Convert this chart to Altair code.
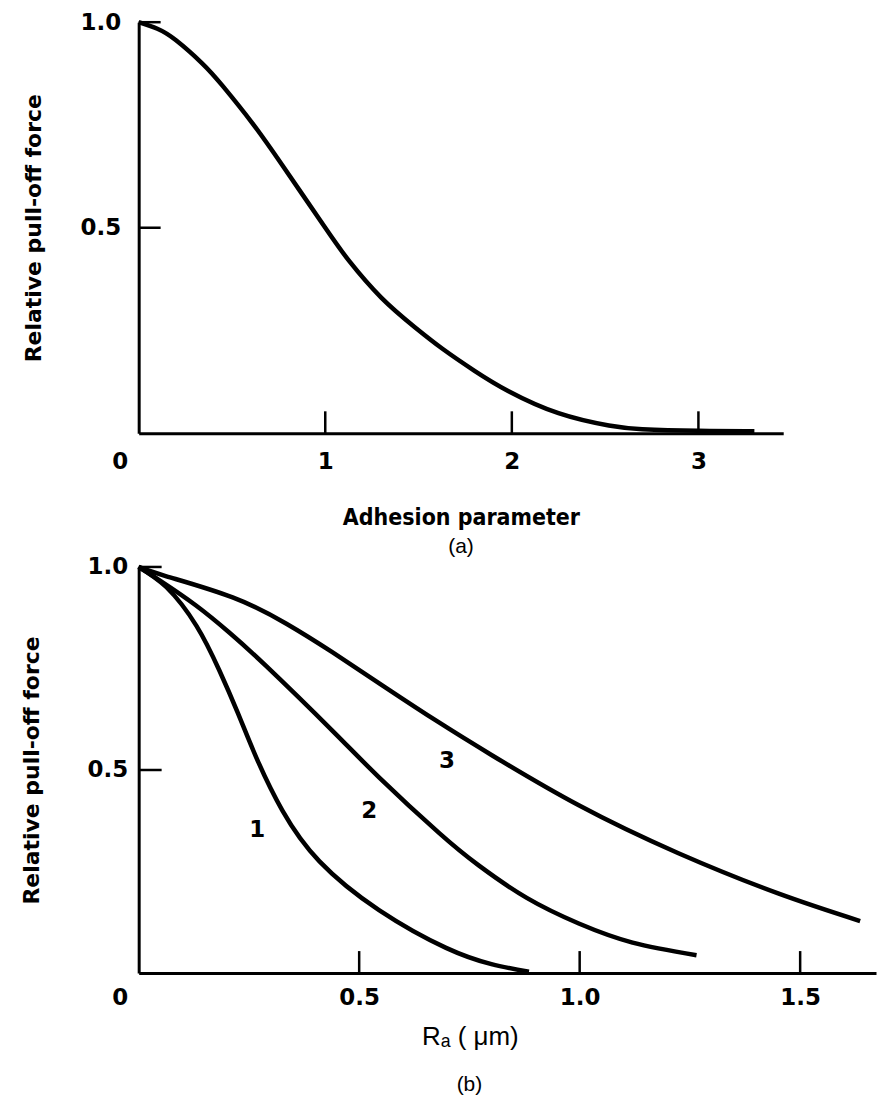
import altair as alt
import pandas as pd

# ---------------- Panel (a) data ----------------
a_x = [0, 0.1, 0.2, 0.34, 0.45, 0.61, 0.77, 1.0, 1.13, 1.3, 1.48, 1.63, 1.8, 1.98, 2.25, 2.52, 2.7, 3.0, 3.3]
a_y = [1.0, 0.984, 0.956, 0.90, 0.845, 0.754, 0.652, 0.5, 0.418, 0.33, 0.258, 0.205, 0.152, 0.103, 0.049, 0.019, 0.01, 0.006, 0.005]
a_xticks = [1, 2, 3]
a_xlabels = [0, 1, 2, 3]
a_yticks = [0.5, 1.0]

# ---------------- Panel (b) data ----------------
b1_x = [0, 0.063, 0.131, 0.183, 0.225, 0.267, 0.326, 0.41, 0.545, 0.697, 0.8, 0.885]
b1_y = [1.0, 0.95, 0.855, 0.745, 0.64, 0.53, 0.40, 0.275, 0.155, 0.062, 0.022, 0.003]
b2_x = [0, 0.05, 0.13, 0.206, 0.29, 0.439, 0.545, 0.681, 0.771, 0.88, 0.998, 1.12, 1.265]
b2_y = [1.0, 0.965, 0.905, 0.838, 0.755, 0.597, 0.482, 0.345, 0.265, 0.185, 0.122, 0.075, 0.044]
b3_x = [0, 0.063, 0.213, 0.335, 0.439, 0.56, 0.681, 0.8, 0.998, 1.224, 1.45, 1.636]
b3_y = [1.0, 0.977, 0.925, 0.86, 0.79, 0.703, 0.617, 0.537, 0.413, 0.295, 0.196, 0.128]
b_xticks = [0.5, 1.0, 1.5]
b_xlabels = [0, 0.5, 1.0, 1.5]
b_yticks = [0.5, 1.0]
b_curve_names = ["1", "2", "3"]
b_label_x = [0.269, 0.523, 0.699]
b_label_y = [0.351, 0.398, 0.521]

BOLD = "DejaVu Sans"
COND = "DejaVu Sans Condensed, DejaVu Sans"
PLAIN = "Liberation Sans"

W_A, H_A = 646, 412
W_B, H_B = 739, 407
TICK = 22

df_a = pd.DataFrame({"x": a_x, "y": a_y})
df_b = pd.concat([
    pd.DataFrame({"x": b1_x, "y": b1_y, "s": b_curve_names[0]}),
    pd.DataFrame({"x": b2_x, "y": b2_y, "s": b_curve_names[1]}),
    pd.DataFrame({"x": b3_x, "y": b3_y, "s": b_curve_names[2]}),
])
df_blab = pd.DataFrame({"x": b_label_x, "y": b_label_y, "t": b_curve_names})

zero_offset = {"condition": {"test": "datum.value === 0", "value": -19}, "value": 0}


def common_axis(**kw):
    base = dict(
        grid=False, ticks=False, tickSize=0, domainColor="black", domainWidth=3,
        labelFont=BOLD, labelFontWeight="bold", labelFontSize=23, labelColor="black",
        titleColor="black", labelFlush=False, labelOverlap=False,
    )
    base.update(kw)
    return alt.Axis(**base)


# ---------- Panel (a) ----------
xa = alt.X("x:Q", scale=alt.Scale(domain=[0, 3.4545], nice=False, zero=False),
           axis=common_axis(values=a_xlabels, format="d", labelPadding=17, labelOffset=zero_offset,
                            title="Adhesion parameter", titleFont=COND, titleFontWeight="bold",
                            titleFontSize=23, titlePadding=33))
ya = alt.Y("y:Q", scale=alt.Scale(domain=[0, 1], nice=False),
           axis=common_axis(values=a_yticks, format=".1f", labelPadding=18,
                            title="Relative pull-off force", titleFont=BOLD, titleFontWeight="bold",
                            titleFontSize=22, titlePadding=35))

curve_a = alt.Chart(df_a).mark_line(color="black", strokeWidth=4.5, interpolate="natural").encode(x=xa, y=ya)
xt_a = alt.Chart(pd.DataFrame({"x": a_xticks})).mark_rule(color="black", strokeWidth=2.5).encode(
    x=xa, y=alt.value(H_A), y2=alt.value(H_A - TICK))
yt_a = alt.Chart(pd.DataFrame({"y": a_yticks})).mark_rule(color="black", strokeWidth=2.5).encode(
    y=ya, x=alt.value(0), x2=alt.value(TICK))

panel_a = alt.layer(curve_a, xt_a, yt_a).properties(
    width=W_A, height=H_A,
    title=alt.TitleParams("(a)", orient="bottom", frame="group", anchor="middle",
                          font=PLAIN, fontSize=21, fontWeight="normal", color="black", offset=7),
)

# ---------- Panel (b) ----------
xb = alt.X("x:Q", scale=alt.Scale(domain=[0, 1.672], nice=False, zero=False),
           axis=common_axis(values=b_xlabels, labelPadding=14, labelOffset=zero_offset,
                            labelExpr="datum.value === 0 ? '0' : format(datum.value, '.1f')",
                            title="Rₐ ( μm)", titleFont=PLAIN, titleFontWeight="normal",
                            titleFontSize=26, titlePadding=14, titleX=332))
yb = alt.Y("y:Q", scale=alt.Scale(domain=[0, 1], nice=False),
           axis=common_axis(values=b_yticks, format=".1f", labelPadding=11,
                            title="Relative pull-off force", titleFont=BOLD, titleFontWeight="bold",
                            titleFontSize=22, titlePadding=44))

curve_b = alt.Chart(df_b).mark_line(color="black", strokeWidth=4.5, interpolate="natural").encode(
    x=xb, y=yb, detail="s:N")
xt_b = alt.Chart(pd.DataFrame({"x": b_xticks})).mark_rule(color="black", strokeWidth=2.5).encode(
    x=xb, y=alt.value(H_B), y2=alt.value(H_B - TICK))
yt_b = alt.Chart(pd.DataFrame({"y": b_yticks})).mark_rule(color="black", strokeWidth=2.5).encode(
    y=yb, x=alt.value(0), x2=alt.value(TICK + 1))
lab_b = alt.Chart(df_blab).mark_text(font=BOLD, fontWeight="bold", fontSize=23, color="black").encode(
    x=xb, y=yb, text="t:N")

panel_b = alt.layer(curve_b, xt_b, yt_b, lab_b).properties(
    width=W_B, height=H_B,
    title=alt.TitleParams("(b)", orient="bottom", frame="group", anchor="middle", dx=-38,
                          font=PLAIN, fontSize=21, fontWeight="normal", color="black", offset=24),
)

chart = alt.vconcat(panel_a, panel_b, spacing=134, bounds="flush").properties(
    padding={"left": 20, "top": 10, "right": 2, "bottom": 0},
    background="white",
).configure_view(stroke=None)

chart.save("out.html", embed_options={"renderer": "svg", "actions": False})
